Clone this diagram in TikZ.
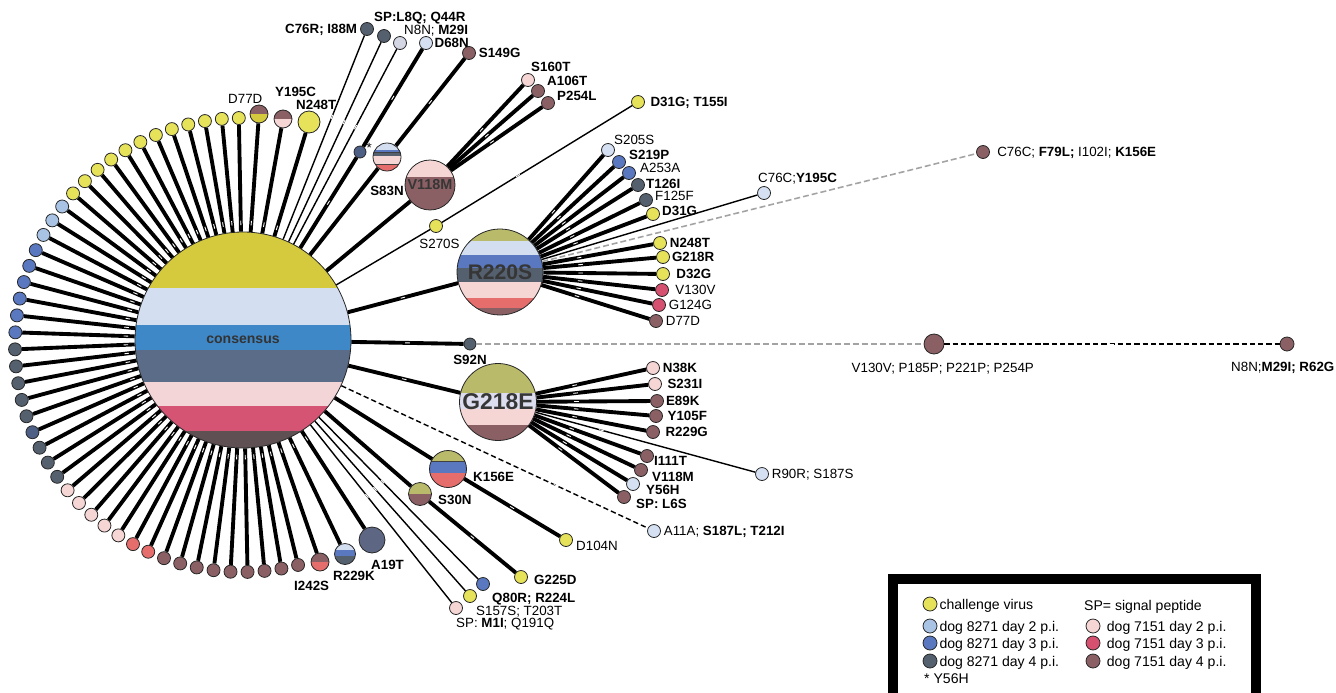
\documentclass[tikz,border=0pt]{standalone}
\usepackage{fontspec}
\setmainfont{Liberation Sans}
\usetikzlibrary{positioning,calc,decorations.markings}

\definecolor{cy}{HTML}{E6E25A}
\definecolor{clb}{HTML}{A9C3E5}
\definecolor{cpb}{HTML}{D5E1F2}
\definecolor{clav}{HTML}{D4D6E3}
\definecolor{cb}{HTML}{5A78C0}
\definecolor{cd}{HTML}{55606F}
\definecolor{cdb}{HTML}{4D5F85}
\definecolor{ca}{HTML}{5D6783}
\definecolor{cp}{HTML}{F5D6D5}
\definecolor{cr}{HTML}{D6506F}
\definecolor{cc}{HTML}{E56E6C}
\definecolor{cbr}{HTML}{8B6064}
\definecolor{col}{HTML}{B9BB6B}
\definecolor{cgy}{HTML}{A3A3A3}
\definecolor{sy}{HTML}{D5CA3D}
\definecolor{slb}{HTML}{D3DEF0}
\definecolor{sb}{HTML}{3F88C8}
\definecolor{sd}{HTML}{5B6C88}
\definecolor{sp}{HTML}{F3D5D8}
\definecolor{sr}{HTML}{D55474}
\definecolor{sbr}{HTML}{5E5053}
\definecolor{clav2}{HTML}{DDDDF0}
\definecolor{htext}{HTML}{363636}

% horizontal colour bands of a haplotype circle (colour/top/bottom, y down)
\newcommand{\bands}[1]{%
  \foreach \bc/\ya/\yb in {#1}{%
    \fill[\bc] ($(path picture bounding box.center)+(-120,\ya)$) rectangle ($(path picture bounding box.center)+(120,\yb)$);
    \draw[line width=0.4pt,black!75] ($(path picture bounding box.center)+(-120,\yb)$) -- ++(240,0);}}

\begin{document}
\begin{tikzpicture}[
    x=0.02cm, y=-0.02cm,
    hap/.style={circle, draw=black!85, line width=0.45pt, inner sep=0pt, minimum size={2*#1*0.02cm}},
    leaf/.style={hap=6.5},
    heavy/.style={line width=2.2pt},
    lite/.style={line width=0.8pt},
    bdash/.style={line width=0.8pt, dash pattern=on 3pt off 1.7pt},
    gdash/.style={line width=0.9pt, cgy, dash pattern=on 3.4pt off 1.7pt},
    mut/.style={postaction={decorate, decoration={markings, mark=at position #1 with {\draw[white, line width=0.5pt] (-1.3pt,0) -- (1.3pt,0);}}}},
    mut/.default=0.5,
    lab/.style={font=\fontsize{7.6}{8}\selectfont, inner sep=0.5pt, text height=5.4pt, text depth=0pt},
    leg/.style={font=\fontsize{8}{9}\selectfont, inner sep=0.5pt, text height=5.7pt, text depth=0pt},
    big/.style={font=\fontsize{#1}{#1}\selectfont\bfseries, text=htext}
  ]
  \useasboundingbox (0,0) rectangle (1336,693);

  % consensus and its fan
  \node[hap=108, big=8, text=black!80, path picture={\bands{sy/-110/-52, slb/-52/-15, sb/-15/10, sd/10/42, sp/42/66, sr/66/91, sbr/91/110}}] (cons) at (243,340) {consensus};
  \coordinate (fanc) at (242,345);
  \foreach \col [count=\i from 0] in {cy,cy,cy,cy,cy,cy,cy,cy,cy,cy,cy,cy,clb,clb,clb,cb,cb,cb,cb,cb,cb,cd,cd,cd,cd,cd,cdb,cd,cd,cd,cp,cp,cp,cp,cp,cc,cc,cbr,cbr,cbr,cbr,cbr,cbr,cbr,cbr,cbr}{
    \node[leaf, fill=\col] (f\i) at ($(fanc)+({-90.8-4.3*\i}:227)$) {};
    \draw[heavy, mut=5pt] (cons) -- (f\i);
  }
  \node[hap=9, path picture={\bands{cbr/-10/0, sy/0/10}}] (d77d) at (259,114) {};
  \node[hap=9, path picture={\bands{cbr/-10/0, cp/0/10}}] (y195c) at (283,119) {};
  \node[hap=11, fill=cy] (n248t) at (309,122) {};
  \node[hap=9, path picture={\bands{cbr/-10/0, cc/0/10}}] (i242s) at (320,562) {};
  \node[hap=10.5, path picture={\bands{slb/-11/-3.7, cb/-3.7/2.3, cd/2.3/11}}] (r229k) at (345,554) {};
  \node[hap=13, fill=ca] (a19t) at (372,540) {};
  \foreach \n in {d77d,y195c,n248t,i242s,r229k,a19t}
    \draw[heavy, mut=5pt] (cons) -- (\n);
  \node[lab, anchor=west] (d77d-l) at (227,99) {D77D};
  \node[lab, anchor=west] (y195c-l) at (274,91.5) {\textbf{Y195C}};
  \node[lab, anchor=west] (n248t-l) at (295,105) {\textbf{N248T}};
  \node[lab, anchor=west] (i242s-l) at (293,586) {\textbf{I242S}};
  \node[lab, anchor=west] (r229k-l) at (332,576) {\textbf{R229K}};
  \node[lab, anchor=west] (a19t-l) at (370,565) {\textbf{A19T}};

  % upper branches
  \node[leaf, fill=cd] (c76r) at (367,29) {};
  \node[leaf, fill=cd] (l8q) at (384,36) {};
  \node[leaf, fill=clav] (n8n) at (400,43) {};
  \node[leaf, fill=cpb] (d68n) at (426,43) {};
  \node[leaf, fill=cbr] (s149g) at (469,53) {};
  \node[hap=6, fill=cdb] (star) at (360,152) {};
  \node[hap=14, path picture={\bands{slb/-15/-7, cb/-7/-4.5, cd/-4.5/-1, cp/-1/7.5, cc/7.5/15}}] (s83n) at (387,157) {};
  \node[hap=25, big=8.2, path picture={\bands{cp/-26/-8, cbr/-8/26}}] (v118m) at (430,185) {V118M};
  \node[leaf, fill=cp] (s160t) at (528,80) {};
  \node[leaf, fill=cbr] (a106t) at (538,91) {};
  \node[leaf, fill=cbr] (p254l) at (548,103) {};
  \node[leaf, fill=cy] (s270s) at (436,226) {};
  \node[leaf, fill=cy] (d31gt) at (638,102) {};
  \draw[lite, mut=0.6] (cons) -- (c76r);
  \draw[lite, mut=0.6] (cons) -- (l8q);
  \draw[lite, mut=0.6] (cons) -- (n8n);
  \draw[heavy, mut] (cons) -- (star);
  \draw[heavy, mut] (star) -- (d68n);
  \draw[heavy] (cons) -- (s83n);
  \draw[heavy, mut] (s83n) -- (s149g);
  \draw[heavy] (cons) -- (v118m);
  \foreach \n in {s160t,a106t,p254l}
    \draw[heavy, mut=0.45] (v118m) -- (\n);
  \draw[lite] (cons) -- (s270s);
  \draw[lite, mut=0.4] (s270s) -- (d31gt);
  \node[lab, left=1pt of c76r] (c76r-l) {\textbf{C76R; I88M}};
  \node[lab, anchor=west] (l8q-l) at (373,17) {\textbf{SP:L8Q; Q44R}};
  \node[lab, anchor=west] (n8n-l) at (403,30) {N8N; \textbf{M29I}};
  \node[lab, right=0.3pt of d68n] (d68n-l) {\textbf{D68N}};
  \node[lab, right=1pt of s149g] (s149g-l) {\textbf{S149G}};
  \node[lab, right=-0.5pt of star, yshift=2.5pt] (star-l) {*};
  \node[lab, below=7.5pt of s83n] (s83n-l) {\textbf{S83N}};
  \node[lab, anchor=west] (s160t-l) at (530,67) {\textbf{S160T}};
  \node[lab, anchor=west] (a106t-l) at (546,81) {\textbf{A106T}};
  \node[lab, anchor=west] (p254l-l) at (556,96) {\textbf{P254L}};
  \node[lab, below=2.5pt of s270s, xshift=2pt] (s270s-l) {S270S};
  \node[lab, right=2.5pt of d31gt] (d31gt-l) {\textbf{D31G; T155I}};

  % R220S
  \node[hap=43, big=12, path picture={\bands{col/-45/-31, slb/-31/-17, cb/-17/-4, cd/-4/10, cp/10/26, cc/26/36, cbr/36/45}}] (r220s) at (500,272) {R220S};
  \draw[heavy, mut] (cons) -- (r220s);
  \foreach \n/\xx/\yy/\col in {s205s/608/150/cpb, s219p/619/162/cb, a253a/629/173/cb, t126i/638/185/cd, f125f/646/200/cd, d31g/653/214/cy, n248tb/660/243/cy, g218r/663/257/cy, d32g/663/274/cy, v130v/662/290/cr, g124g/659/305/cr, d77db/656/321/cbr}{
    \node[leaf, fill=\col] (\n) at (\xx,\yy) {};
    \draw[heavy, mut=0.33] (r220s) -- (\n);
  }
  \node[lab, anchor=west] (s205s-l) at (613,140) {S205S};
  \node[lab, anchor=west] (s219p-l) at (628,155) {\textbf{S219P}};
  \node[lab, anchor=west] (a253a-l) at (639,168) {A253A};
  \node[lab, anchor=west] (t126i-l) at (645,184) {\textbf{T126I}};
  \node[lab, anchor=west] (f125f-l) at (654,196) {F125F};
  \node[lab, anchor=west] (d31g-l) at (661,211) {\textbf{D31G}};
  \node[lab, right=1pt of n248tb] (n248tb-l) {\textbf{N248T}};
  \node[lab, right=0.5pt of g218r] (g218r-l) {\textbf{G218R}};
  \node[lab, right=3pt of d32g] (d32g-l) {\textbf{D32G}};
  \node[lab, right=3pt of v130v] (v130v-l) {V130V};
  \node[lab, right=1pt of g124g] (g124g-l) {G124G};
  \node[lab, right=1pt of d77db] (d77db-l) {D77D};
  \node[leaf, fill=cpb] (c76cy) at (764,193) {};
  \node[leaf, fill=cbr] (c76cf) at (983,152) {};
  \draw[lite] (r220s) -- (c76cy);
  \draw[gdash] (r220s) -- (c76cf);
  \node[lab, anchor=west] (c76cy-l) at (757,178) {C76C;\textbf{Y195C}};
  \node[lab, right=3.5pt of c76cf] (c76cf-l) {C76C; \textbf{F79L;} I102I; \textbf{K156E}};

  % S92N line
  \node[hap=6, fill=cd] (s92n) at (470,344) {};
  \node[hap=10, fill=cbr] (v130) at (934,344) {};
  \node[hap=7, fill=cbr] (n8nr) at (1287,344) {};
  \draw[heavy, mut] (cons) -- (s92n);
  \draw[gdash] (s92n) -- (v130);
  \draw[bdash, mut] (v130) -- (n8nr);
  \node[lab, below=2pt of s92n] (s92n-l) {\textbf{S92N}};
  \node[lab, below=4pt of v130, xshift=5pt] (v130-l) {V130V; P185P; P221P; P254P};
  \node[lab, anchor=west] (n8nr-l) at (1230,367) {N8N;\textbf{M29I; R62G}};

  % G218E
  \node[hap=38.5, big=13, path picture={\bands{col/-40/-9, clav2/-9/7, cp/7/23, cbr/23/40}}] (g218e) at (498,402) {G218E};
  \draw[heavy, mut] (cons) -- (g218e);
  \foreach \n/\xx/\yy/\col in {n38k/653/368/cp, s231i/655/384/cp, e89k/657/401/cbr, y105f/656/416/cbr, r229g/653/432/cbr, i111t/647/456/cbr, v118mb/641/470/cbr, y56h/633/484/cpb, l6s/624/497/cbr}{
    \node[leaf, fill=\col] (\n) at (\xx,\yy) {};
    \draw[heavy, mut=0.35] (g218e) -- (\n);
  }
  \node[leaf, fill=cpb] (r90r) at (762,474) {};
  \draw[lite, mut=0.3] (g218e) -- (r90r);
  \node[lab, right=1pt of n38k] (n38k-l) {\textbf{N38K}};
  \node[lab, right=2.5pt of s231i] (s231i-l) {\textbf{S231I}};
  \node[lab, right=0.5pt of e89k] (e89k-l) {\textbf{E89K}};
  \node[lab, right=2pt of y105f] (y105f-l) {\textbf{Y105F}};
  \node[lab, right=2.5pt of r229g] (r229g-l) {\textbf{R229G}};
  \node[lab, anchor=west] (i111t-l) at (653,461) {\textbf{I111T}};
  \node[lab, anchor=west] (v118mb-l) at (651,477) {\textbf{V118M}};
  \node[lab, anchor=west] (y56h-l) at (645,490) {\textbf{Y56H}};
  \node[lab, anchor=west] (l6s-l) at (635,504) {\textbf{SP: L6S}};
  \node[lab, right=1pt of r90r] (r90r-l) {R90R; S187S};
  \node[leaf, fill=cpb] (a11a) at (654,531) {};
  \draw[bdash, mut=0.7] (cons) -- (a11a);
  \node[lab, right=1pt of a11a] (a11a-l) {A11A; \textbf{S187L; T212I}};

  % lower branches
  \node[hap=18.5, path picture={\bands{col/-19/-7.3, cb/-7.3/4.3, cc/4.3/19}}] (k156e) at (448,469) {};
  \node[hap=11.5, path picture={\bands{col/-12/0, cbr/0/12}}] (s30n) at (420,494) {};
  \node[leaf, fill=cy] (d104n) at (566,540) {};
  \node[leaf, fill=cy] (g225d) at (521,577) {};
  \node[leaf, fill=cb] (q80r) at (483,584) {};
  \node[leaf, fill=cy] (s157s) at (470,596) {};
  \node[leaf, fill=cp] (m1i) at (456,608) {};
  \draw[heavy] (cons) -- (k156e);
  \draw[heavy, mut] (k156e) -- (d104n);
  \draw[heavy] (cons) -- (s30n);
  \draw[heavy, mut] (s30n) -- (g225d);
  \draw[lite, mut=0.4] (cons) -- (q80r);
  \draw[lite, mut=0.4] (cons) -- (s157s);
  \draw[lite, mut=0.4] (cons) -- (m1i);
  \node[lab, anchor=west] (k156e-l) at (472,477) {\textbf{K156E}};
  \node[lab, anchor=west] (s30n-l) at (437,500) {\textbf{S30N}};
  \node[lab, anchor=west] (d104n-l) at (575,546) {D104N};
  \node[lab, anchor=west] (g225d-l) at (533,580) {\textbf{G225D}};
  \node[lab, anchor=west] (q80r-l) at (491,598) {\textbf{Q80R; R224L}};
  \node[lab, anchor=west] (s157s-l) at (475,611) {S157S; T203T};
  \node[lab, anchor=west] (m1i-l) at (455,623) {SP: \textbf{M1I}; Q191Q};

  % legend
  \draw[line width=5.6pt] (893,579) rectangle (1256,703);
  \node[hap=7, fill=cy] (k-cv) at (930,604) {};
  \node[hap=7, fill=clb] (k-a2) at (930,626) {};
  \node[hap=7, fill=cb] (k-a3) at (930,643) {};
  \node[hap=7, fill=cd] (k-a4) at (930,661) {};
  \node[hap=7, fill=cp] (k-b2) at (1093,626) {};
  \node[hap=7, fill=cr] (k-b3) at (1093,643) {};
  \node[hap=7, fill=cbr] (k-b4) at (1093,661) {};
  \node[leg, right=0.5pt of k-cv] (k-cv-l) {challenge virus};
  \node[leg, right=0.5pt of k-a2] (k-a2-l) {dog 8271 day 2 p.i.};
  \node[leg, right=0.5pt of k-a3] (k-a3-l) {dog 8271 day 3 p.i.};
  \node[leg, right=0.5pt of k-a4] (k-a4-l) {dog 8271 day 4 p.i.};
  \node[leg, right=3pt of k-b2] (k-b2-l) {dog 7151 day 2 p.i.};
  \node[leg, right=3pt of k-b3] (k-b3-l) {dog 7151 day 3 p.i.};
  \node[leg, right=3pt of k-b4] (k-b4-l) {dog 7151 day 4 p.i.};
  \node[leg, anchor=west] (k-star) at (923,678) {* Y56H};
  \node[leg, anchor=west] (k-sp) at (1083,605) {SP= signal peptide};
\end{tikzpicture}
\end{document}
